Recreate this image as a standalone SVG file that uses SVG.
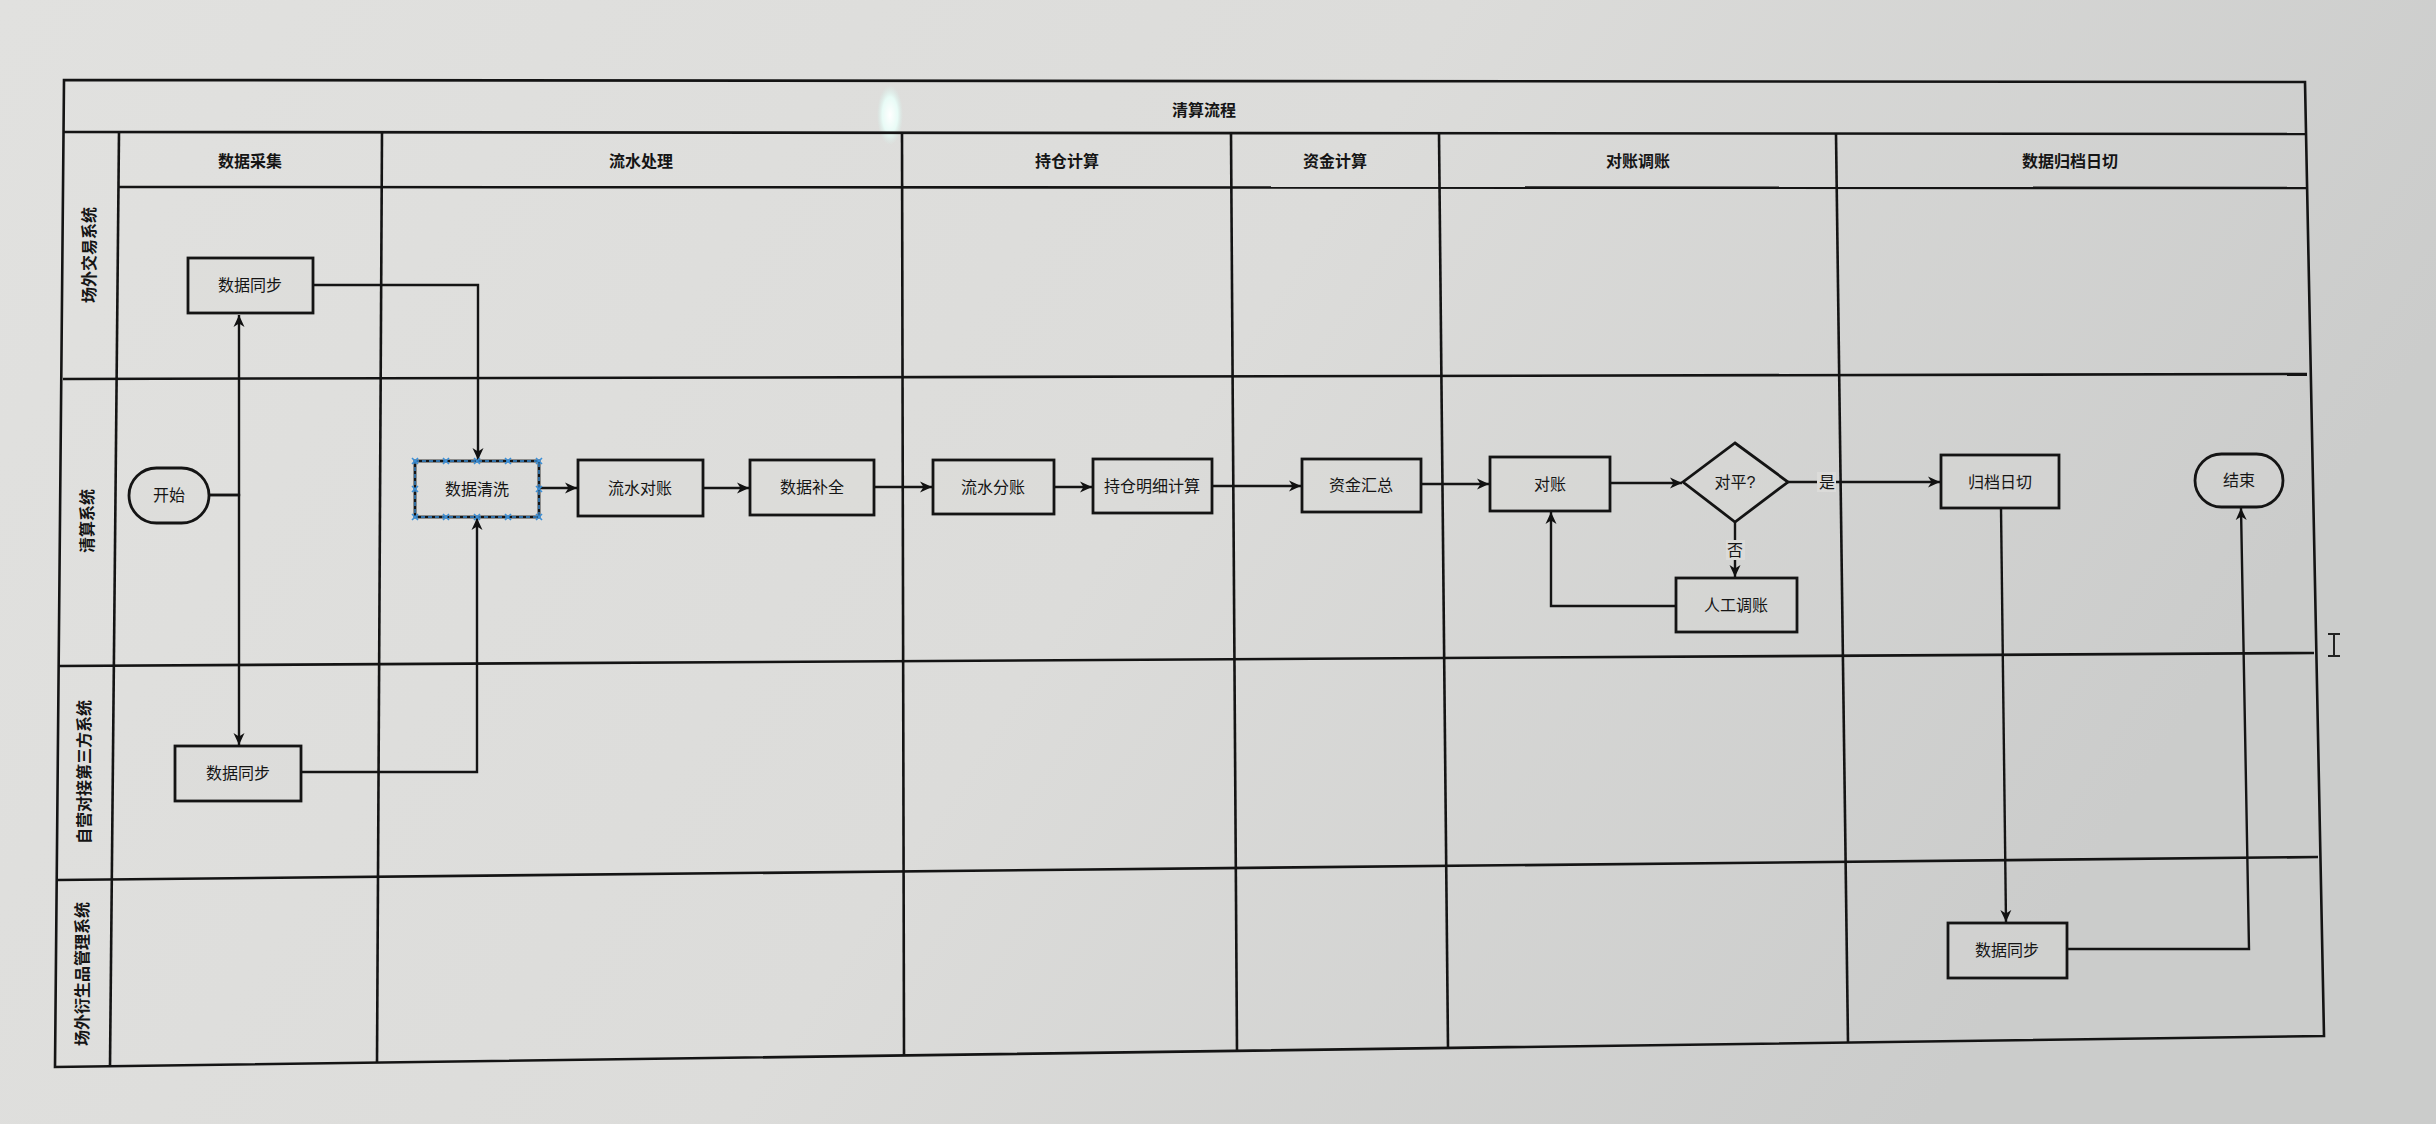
<svg xmlns="http://www.w3.org/2000/svg" width="2436" height="1124" viewBox="0 0 2436 1124">
<defs>
<linearGradient id="bg" x1="0" y1="0" x2="1" y2="0.3">
<stop offset="0" stop-color="#e1e1df"/>
<stop offset="0.55" stop-color="#dcdcda"/>
<stop offset="1" stop-color="#cbcccb"/>
</linearGradient>
<radialGradient id="glare" cx="0.5" cy="0.5" r="0.5">
<stop offset="0" stop-color="#ffffff"/>
<stop offset="0.6" stop-color="#e8fbf6"/>
<stop offset="1" stop-color="#d8f0ea" stop-opacity="0"/>
</radialGradient>
<marker id="arr" viewBox="0 0 12 12" refX="12" refY="6" markerWidth="12" markerHeight="12" markerUnits="userSpaceOnUse" orient="auto">
<path d="M0,0.5 L12,6 L0,11.5 L3.5,6 z" fill="#111"/>
</marker>
<g id="xh"><path d="M-3,-3 L3,3 M-3,3 L3,-3" stroke="#3a8fd8" stroke-width="1.6" fill="none"/></g>
<style>
.frame{fill:none;stroke:#141414;stroke-width:2.6}
.node{fill:#dadad8;fill-opacity:0.35;stroke:#141414;stroke-width:2.8}
.edge{fill:none;stroke:#141414;stroke-width:2.4}
.ea{marker-end:url(#arr)}
.t{font-family:"Liberation Sans","Noto Sans CJK SC",sans-serif;font-size:16px;fill:#151515;text-anchor:middle;dominant-baseline:central}
.h{font-weight:bold}
.lbl{fill:#dbdbd9}
</style>
</defs>
<rect x="0" y="0" width="2436" height="1124" fill="url(#bg)"/>
<ellipse cx="890" cy="115" rx="13" ry="30" fill="url(#glare)"/>

<g id="pool">
<path class="frame" d="M64,80 L2305,82 L2324,1036 L55,1067 Z"/>
<path class="frame" d="M64,132 L2305,134"/>
<path class="frame" d="M119,187 L2306,188"/>
<path class="frame" d="M63,379 L2307,374"/>
<path class="frame" d="M59,666 L2314,653"/>
<path class="frame" d="M57,880 L2318,857"/>
<path class="frame" d="M119,132 L110,1066"/>
<path class="frame" d="M382,132 L377,1063"/>
<path class="frame" d="M902,133 L904,1055"/>
<path class="frame" d="M1231,133 L1237,1051"/>
<path class="frame" d="M1439,133 L1448,1048"/>
<path class="frame" d="M1836,134 L1848,1043"/>
<text class="t h" x="1204" y="110">清算流程</text>
<text class="t h" x="250" y="161">数据采集</text>
<text class="t h" x="641" y="161">流水处理</text>
<text class="t h" x="1067" y="161">持仓计算</text>
<text class="t h" x="1335" y="161">资金计算</text>
<text class="t h" x="1638" y="161">对账调账</text>
<text class="t h" x="2070" y="161">数据归档日切</text>
<text class="t h" transform="translate(89,255) rotate(-90)">场外交易系统</text>
<text class="t h" transform="translate(87,521) rotate(-90)">清算系统</text>
<text class="t h" transform="translate(84,772) rotate(-90)">自营对接第三方系统</text>
<text class="t h" transform="translate(82,974) rotate(-90)">场外衍生品管理系统</text>
</g>

<g id="connectors">
<path class="edge ea" d="M209,495 H239 V315"/>
<path class="edge ea" d="M209,495 H239 V745"/>
<path class="edge ea" d="M313,285 H478 V460"/>
<path class="edge ea" d="M301,772 H477 V518"/>
<path class="edge ea" d="M539,488 H577"/>
<path class="edge ea" d="M703,488 H749"/>
<path class="edge ea" d="M874,487 H932"/>
<path class="edge ea" d="M1054,487 H1092"/>
<path class="edge ea" d="M1212,486 H1301"/>
<path class="edge ea" d="M1421,484 H1489"/>
<path class="edge ea" d="M1610,483 H1682"/>
<path class="edge ea" d="M1788,482 H1940"/>
<rect class="lbl" x="1817" y="472" width="19" height="20"/>
<text class="t" x="1827" y="482">是</text>
<path class="edge ea" d="M1735,522 V577"/>
<rect class="lbl" x="1726" y="540" width="19" height="20"/>
<text class="t" x="1735" y="550">否</text>
<path class="edge ea" d="M1676,606 H1551 V512"/>
<path class="edge ea" d="M2001,508 L2006,922"/>
<path class="edge ea" d="M2067,949 H2249 L2241,508"/>
</g>

<g id="n-sync1"><rect class="node" x="188" y="258" width="125" height="55"/><text class="t" x="250" y="285">数据同步</text></g>
<g id="n-start"><rect class="node" x="129" y="468" width="80" height="55" rx="27.5"/><text class="t" x="169" y="495">开始</text></g>
<g id="n-sync3"><rect class="node" x="175" y="746" width="126" height="55"/><text class="t" x="238" y="773">数据同步</text></g>
<g id="n-clean">
<rect class="node" x="415" y="461" width="124" height="56"/>
<rect x="415" y="461" width="124" height="56" fill="none" stroke="#3a8fd8" stroke-width="1.4" stroke-dasharray="4 3"/>
<use href="#xh" x="415" y="461"/><use href="#xh" x="446" y="461"/><use href="#xh" x="477" y="461"/><use href="#xh" x="508" y="461"/><use href="#xh" x="539" y="461"/>
<use href="#xh" x="415" y="517"/><use href="#xh" x="446" y="517"/><use href="#xh" x="477" y="517"/><use href="#xh" x="508" y="517"/><use href="#xh" x="539" y="517"/>
<use href="#xh" x="415" y="489"/><use href="#xh" x="539" y="489"/>
<text class="t" x="477" y="489">数据清洗</text>
</g>
<g id="n-flowcheck"><rect class="node" x="578" y="460" width="125" height="56"/><text class="t" x="640" y="488">流水对账</text></g>
<g id="n-fill"><rect class="node" x="750" y="460" width="124" height="55"/><text class="t" x="812" y="487">数据补全</text></g>
<g id="n-split"><rect class="node" x="933" y="460" width="121" height="54"/><text class="t" x="993" y="487">流水分账</text></g>
<g id="n-posdetail"><rect class="node" x="1093" y="459" width="119" height="54"/><text class="t" x="1152" y="486">持仓明细计算</text></g>
<g id="n-fund"><rect class="node" x="1302" y="459" width="119" height="53"/><text class="t" x="1361" y="485">资金汇总</text></g>
<g id="n-recon"><rect class="node" x="1490" y="457" width="120" height="54"/><text class="t" x="1550" y="484">对账</text></g>
<g id="n-decision"><path class="node" d="M1735,443 L1788,482 L1735,522 L1683,482 Z"/><text class="t" x="1735" y="482">对平?</text></g>
<g id="n-manual"><rect class="node" x="1676" y="578" width="121" height="54"/><text class="t" x="1736" y="605">人工调账</text></g>
<g id="n-archive"><rect class="node" x="1941" y="455" width="118" height="53"/><text class="t" x="2000" y="482">归档日切</text></g>
<g id="n-end"><rect class="node" x="2195" y="454" width="88" height="53" rx="26.5"/><text class="t" x="2239" y="480">结束</text></g>
<g id="n-sync4"><rect class="node" x="1948" y="923" width="119" height="55"/><text class="t" x="2007" y="950">数据同步</text></g>

<path d="M2328,634 H2340 M2334,634 V656 M2328,656 H2340" stroke="#222" stroke-width="2" fill="none"/>
</svg>
